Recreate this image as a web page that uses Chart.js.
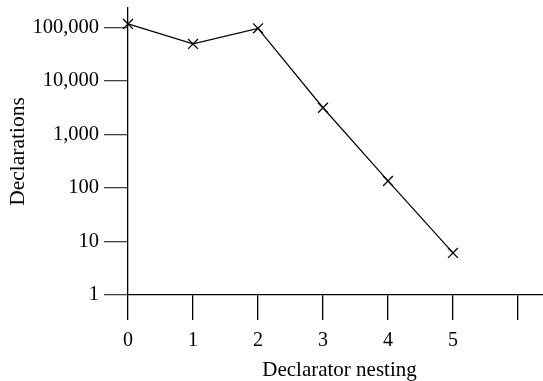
<!DOCTYPE html>
<html>
<head>
<meta charset="utf-8">
<script src="https://cdn.jsdelivr.net/npm/chart.js@4"></script>
<style>
  html, body { margin: 0; padding: 0; background: #ffffff; }
  /* a figura original é recortada à direita */
  #recorte { width: 543px; height: 381px; overflow: hidden; }
  #wrap { width: 551px; height: 381px; position: relative; }
</style>
</head>
<body>
<div id="recorte"><div id="wrap"><canvas id="grafico"></canvas></div></div>
<script>
// DADOS DO GRÁFICO
const nesting = [0, 1, 2, 3, 4, 5];
const declarations = [116000, 49000, 96000, 3150, 135, 6.1];
const xTicks = [0, 1, 2, 3, 4, 5, 6];
const yTicks = [1, 10, 100, 1000, 10000, 100000];

const fonte = "'Liberation Serif', 'Times New Roman', serif";

// CRIA GRÁFICO
new Chart(document.getElementById("grafico"), {
    type: "line",
    data: {
        datasets: [{
            data: nesting.map((x, i) => ({ x: x, y: declarations[i] })),
            borderColor: "#000000",
            borderWidth: 1.2,
            pointStyle: "crossRot",
            pointRadius: 7,
            pointBorderWidth: 1.3,
            pointBorderColor: "#000000",
            tension: 0,
            fill: false,
            clip: false,
        }],
    },
    options: {
        responsive: true,
        maintainAspectRatio: false,
        animation: false,
        layout: {
            autoPadding: false,
            padding: { top: 8, right: 0, left: 0, bottom: 0 },
        },
        plugins: {
            legend: { display: false },
            tooltip: { enabled: false },
        },
        scales: {
            // EIXO X
            x: {
                type: "linear",
                min: 0,
                max: 6.508,
                afterBuildTicks: (axis) => {
                    axis.ticks = xTicks.map((v) => ({ value: v }));
                },
                afterFit: (scale) => {
                    scale.height = 86;
                    scale.paddingLeft = 0;
                    scale.paddingRight = 0;
                },
                border: { color: "#000000", width: 1.3 },
                grid: {
                    drawOnChartArea: false,
                    drawTicks: true,
                    tickLength: 25,
                    tickColor: "#000000",
                    lineWidth: 1.3,
                },
                ticks: {
                    color: "#000000",
                    padding: 9,
                    maxRotation: 0,
                    font: { family: fonte, size: 20 },
                    callback: (v) => (v <= 5 ? String(v) : ""),
                },
                title: {
                    display: true,
                    text: "Declarator nesting",
                    color: "#000000",
                    font: { family: fonte, size: 21 },
                    padding: { top: 0, bottom: -2 },
                },
            },
            // EIXO Y
            y: {
                type: "logarithmic",
                min: 1,
                max: 230000,
                afterBuildTicks: (axis) => {
                    axis.ticks = yTicks.map((v) => ({ value: v }));
                },
                afterFit: (scale) => {
                    scale.width = 128;
                    scale.paddingTop = 0;
                    scale.paddingBottom = 0;
                },
                border: { color: "#000000", width: 1.3 },
                grid: {
                    drawOnChartArea: false,
                    drawTicks: true,
                    tickLength: 24,
                    tickColor: "#444444",
                    lineWidth: 1.3,
                },
                ticks: {
                    color: "#000000",
                    padding: 5,
                    font: { family: fonte, size: 20.5 },
                    callback: (v) => Number(v).toLocaleString("en-US"),
                },
                title: {
                    display: true,
                    text: "Declarations",
                    color: "#000000",
                    font: { family: fonte, size: 21.5 },
                    padding: { top: 5, bottom: 0 },
                },
            },
        },
    },
});
</script>
</body>
</html>
